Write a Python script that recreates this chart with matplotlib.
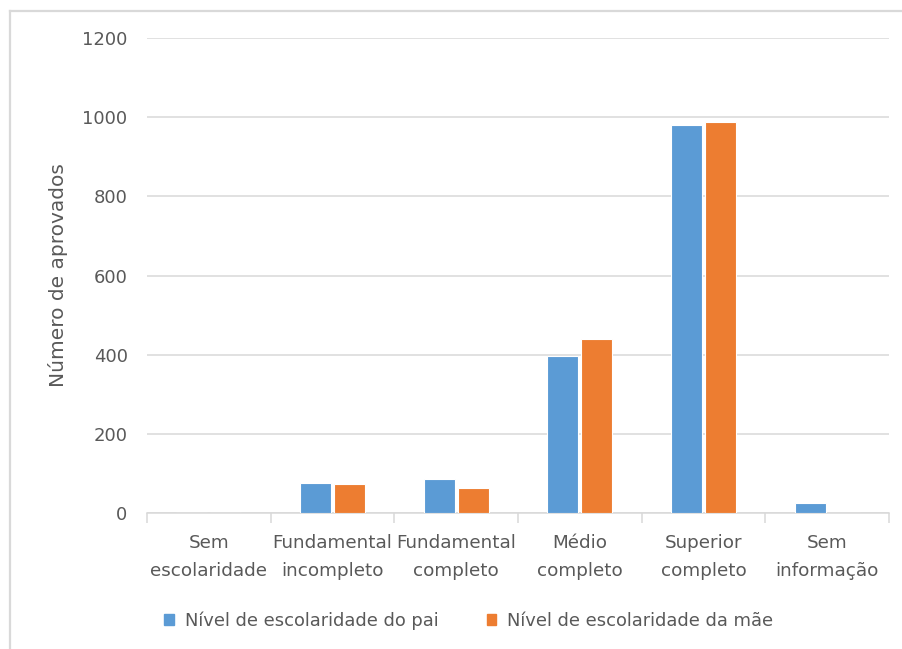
import numpy as np
import matplotlib.pyplot as plt
from matplotlib.patches import Patch
from matplotlib.lines import Line2D

# Escolaridade dos pais dos aprovados
categorias = ["Sem\nescolaridade", "Fundamental\nincompleto", "Fundamental\ncompleto",
              "Médio\ncompleto", "Superior\ncompleto", "Sem\ninformação"]
pai = [0, 75, 87, 397, 979, 25]
mae = [0, 72, 62, 440, 987, 0]

C_PAI = "#5b9bd5"
C_MAE = "#ed7d31"
C_GRID = "#d9d9d9"
C_TXT = "#595959"

plt.rcParams.update({"font.family": "DejaVu Sans"})

fig = plt.figure(figsize=(9.03, 6.49), dpi=100)
ax = fig.add_axes([0.1628, 0.2096, 0.8217, 0.7318])

x = np.arange(len(categorias))
w = 0.25
ax.bar(x - w / 2 - 0.013, pai, width=w, color=C_PAI, edgecolor="#ffffff", lw=0.8, zorder=3)
ax.bar(x + w / 2 + 0.013, mae, width=w, color=C_MAE, edgecolor="#ffffff", lw=0.8, zorder=3)

ax.set_xlim(-0.5, len(categorias) - 0.5)
ax.set_ylim(0, 1200)
ax.set_yticks(range(0, 1201, 200))
ax.yaxis.grid(True, color=C_GRID, lw=1.1, zorder=0)

for s in ["top", "right", "left"]:
    ax.spines[s].set_visible(False)
ax.spines["bottom"].set_color(C_GRID)
ax.spines["bottom"].set_linewidth(1.1)

ax.set_xticks(x)
ax.set_xticklabels(categorias, fontsize=13.2, color=C_TXT, linespacing=1.7)
ax.set_xticks(np.arange(-0.5, len(categorias)), minor=True)
ax.tick_params(axis="x", which="major", length=0, pad=15)
ax.tick_params(axis="x", which="minor", length=7, color=C_GRID, width=1.1)
ax.tick_params(axis="y", length=0, pad=14, labelsize=13, labelcolor=C_TXT)

ax.set_ylabel("Número de aprovados", fontsize=14.5, color=C_TXT, labelpad=10)

handles = [Patch(color=C_PAI, label="Nível de escolaridade do pai"),
           Patch(color=C_MAE, label="Nível de escolaridade da mãe")]
fig.legend(handles=handles, loc="center", bbox_to_anchor=(0.519, 0.044), ncol=2,
           frameon=False, fontsize=12.9, labelcolor=C_TXT,
           handlelength=0.55, handleheight=0.55, handletextpad=0.6, columnspacing=2.7)

# moldura do grafico
fig.add_artist(Line2D([10.5 / 903, 10.5 / 903], [0, 1 - 11 / 649], color=C_GRID, lw=1.6))
fig.add_artist(Line2D([10.5 / 903, 1], [1 - 11 / 649, 1 - 11 / 649], color=C_GRID, lw=1.6))

fig.savefig("out.png", dpi=100)
